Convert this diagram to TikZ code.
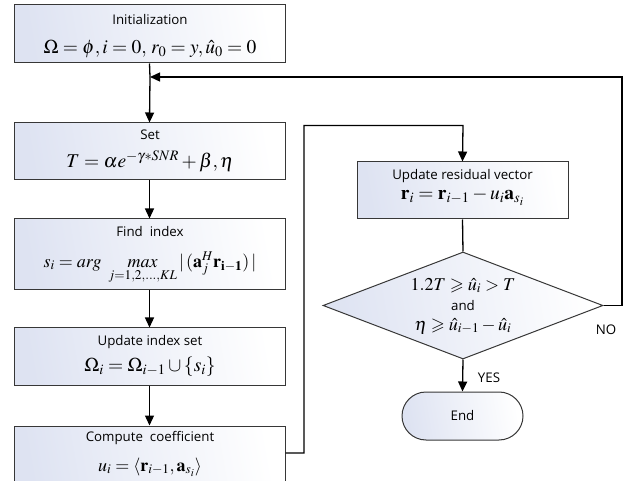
\documentclass[tikz,border=0pt]{standalone}
\usepackage{mathptmx}
\usepackage{amsmath,amssymb}
\usepackage[no-math]{fontspec}
\setmainfont{Open Sans}
\usetikzlibrary{arrows.meta,shapes.geometric,shapes.misc,positioning}
\definecolor{boxtint}{RGB}{222,227,242}
\definecolor{edge}{RGB}{55,55,55}
\tikzset{
  x=1pt, y=-1pt,
  every node/.style={font=\fontsize{13.3}{15}\selectfont, text=black, inner sep=1pt},
  mth/.style={font=\fontsize{18}{20}\selectfont},
  bigmth/.style={font=\fontsize{19.5}{21}\selectfont},
  procbox/.style={draw=edge, line width=1pt, left color=boxtint, right color=white,
    shading angle=100, minimum width=271pt, inner sep=0pt},
  flow/.style={draw=black, line width=1.3pt, -{Triangle[length=10pt,width=9pt]}},
  plain/.style={draw=black, line width=1.3pt},
}
\newcommand{\condmath}[1]{{\fontsize{18}{20}\selectfont$#1$}}
\begin{document}
\begin{tikzpicture}
\clip (0,0) rectangle (627,481);
\useasboundingbox (0,0) rectangle (627,481);

% main column of process boxes
\node[procbox, minimum height=58pt] (init) at (149.5,34) {};
\node (initT) at (150,20) {Initialization};
\node[bigmth] (initM) at (150,49) {$\Omega=\phi, i=0,\, r_{0}=y, \hat{u}_{0}=0$};

\node[procbox, minimum height=57pt] (set) at (149.5,151.5) {};
\node (setT) at (150,135) {Set};
\node[bigmth] (setM) at (150,161) {$T=\alpha e^{-\gamma * SNR}+\beta,\eta$};

\node[procbox, minimum height=71pt] (find) at (149.5,254.5) {};
\node (findT) at (150,232) {Find\ \ index};
\node[mth] (findM) at (150,268) {$s_{i}=arg\ \mathop{max}\limits_{j=1,2,\dots,KL}|\,(\mathbf{a}_{j}^{H}\mathbf{r}_{\mathbf{i-1}})\,|$};

\node[procbox, minimum height=57pt] (upd) at (149.5,356.5) {};
\node (updT) at (150,342) {Update index set};
\node[bigmth] (updM) at (150,367) {$\Omega_{i}=\Omega_{i-1}\cup\{s_{i}\}$};

\node[procbox, minimum height=70pt] (comp) at (149.5,461) {};
\node (compT) at (150,438) {Compute\ \ coefficient};
\node[mth] (compM) at (150,467) {$u_{i}=\langle \mathbf{r}_{i-1},\mathbf{a}_{s_{i}}\rangle$};

% right column
\node[procbox, minimum width=211pt, minimum height=57pt] (resid) at (462.5,190.5) {};
\node (residT) at (462.5,176) {Update residual vector};
\node[bigmth] (residM) at (462.5,197) {$\mathbf{r}_{i}=\mathbf{r}_{i-1}-u_{i}\mathbf{a}_{s_{i}}$};

\node[diamond, draw=edge, line width=1pt, left color=boxtint, right color=white,
      shading angle=100, minimum width=280pt, minimum height=107pt, inner sep=0pt,
      aspect=2.6] (test) at (463,305.5) {};
\node[align=center, inner sep=0pt, font=\fontsize{13.3}{20}\selectfont] (testL) at (463,306)
  {\condmath{1.2T\geqslant\hat{u}_{i}>T}\\ and\\ \condmath{\eta\geqslant\hat{u}_{i-1}-\hat{u}_{i}}};

\node[rounded rectangle, draw=edge, line width=1pt, left color=boxtint, right color=white,
      shading angle=100, minimum width=121pt, minimum height=48pt, inner sep=0pt]
      (fin) at (462.5,416) {};
\node (finT) at (462.5,416) {End};

\node (yes) at (489,378) {YES};
\node (no) at (606,330) {NO};

% connectors
\coordinate (join) at (150,77);
\coordinate (loopR) at (304,453);
\coordinate (loopT) at (304,125.5);
\coordinate (loopE) at (463,125.5);
\coordinate (backR) at (622,305.5);
\coordinate (backT) at (622,77);

\draw[plain] (init.south) -- (join);
\draw[flow] (join) -- (set.north);
\draw[flow] (set.south) -- (find.north);
\draw[flow] (find.south) -- (upd.north);
\draw[flow] (upd.south) -- (comp.north);
\draw[flow] (comp.east |- loopR) -- (loopR) -- (loopT) -- (loopE) -- (resid.north);
\draw[plain] (resid.south) -- (test.north);
\draw[flow] (test.south) -- (fin.north);
\draw[flow] (test.east) -- (backR) -- (backT) -- (join);
\end{tikzpicture}
\end{document}
